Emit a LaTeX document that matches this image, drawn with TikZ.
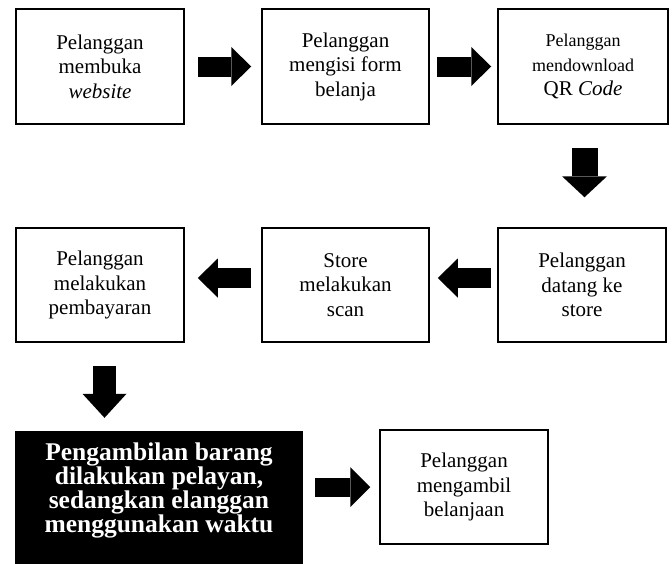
\documentclass[tikz,border=0pt]{standalone}
\usepackage{fontspec}
\setmainfont{Liberation Serif}
\usetikzlibrary{arrows.meta}

\begin{document}
\begin{tikzpicture}[x=1pt, y=-1pt,
  stepbox/.style={draw, line width=1.5pt, minimum width=168pt, minimum height=115pt,
    inner sep=0pt, align=center, font=\fontsize{21}{24.5}\selectfont},
  darkbox/.style={fill=black, text=white, minimum width=288pt, minimum height=118pt,
    inner sep=0pt, align=center, font=\bfseries\fontsize{25.5}{24}\selectfont},
  flowright/.style={line width=20pt, -{Triangle[length=20pt, width=39pt, line width=0pt]}},
  flowdown/.style={line width=26pt, -{Triangle[length=21pt, width=45pt, line width=0pt]}}]
  \useasboundingbox (0,0) rectangle (672,563);

  % First row
  \node[stepbox] (b1) at (100, 66.5) {Pelanggan\\membuka\\\textit{website}};
  \node[stepbox, minimum width=167pt] (b2) at (345.5, 66.5) {Pelanggan\\mengisi form\\belanja};
  \node[stepbox, minimum width=170pt] (b3) at (583, 66.5)
    {{\fontsize{18}{22}\selectfont Pelanggan}\\{\fontsize{18}{22}\selectfont mendownload}\\QR \textit{Code}};

  % Second row
  \node[stepbox, minimum height=114pt] (b6) at (582, 285) {Pelanggan\\datang ke\\store};
  \node[stepbox, minimum height=114pt, minimum width=167pt] (b5) at (345.5, 285) {Store\\melakukan\\scan};
  \node[stepbox, minimum height=114pt] (b4) at (100, 285) {Pelanggan\\melakukan\\pembayaran};

  % Third row
  \node[darkbox] (b7) at (159, 490) {Pengambilan barang\\dilakukan pelayan,\\sedangkan elanggan\\menggunakan waktu};
  \fill[black] (b7.south west) rectangle ([yshift=-16pt]b7.south east);
  \node[stepbox, minimum height=114pt] (b8) at (464, 487) {Pelanggan\\mengambil\\belanjaan};

  % Arrows
  \draw[flowright, shorten <=13pt, shorten >=10pt] (b1) -- (b2);
  \draw[flowright, shorten <=7pt, shorten >=6pt] (b2) -- (b3);
  \draw[flowdown, shorten <=23pt, shorten >=30pt] ([xshift=1.5pt]b3.south) -- ([xshift=1.5pt]b3.south |- b6.north);
  \draw[flowright, shorten <=6pt, shorten >=8pt] ([yshift=7pt]b6.west) -- ([yshift=7pt]b5.east);
  \draw[flowright, shorten <=10pt, shorten >=13pt] ([yshift=7pt]b5.west) -- ([yshift=7pt]b4.east);
  \draw[flowdown, line width=23pt, -{Triangle[length=24pt, width=44pt, line width=0pt]},
    shorten <=23pt, shorten >=13pt] ([xshift=4.5pt]b4.south) -- ([xshift=4.5pt]b4.south |- b7.north);
  \draw[flowright, line width=19pt, -{Triangle[length=20pt, width=40pt, line width=0pt]},
    shorten <=12pt, shorten >=9pt] (b7.east |- b8) -- (b8);
\end{tikzpicture}
\end{document}
